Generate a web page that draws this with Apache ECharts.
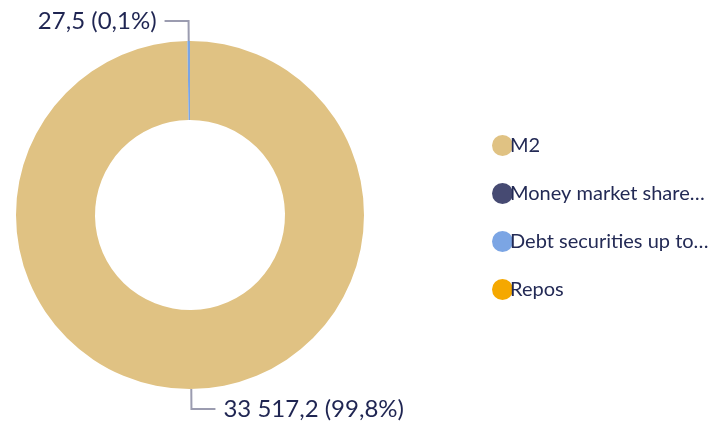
<!DOCTYPE html>
<html>
<head>
<meta charset="utf-8">
<script src="https://cdn.jsdelivr.net/npm/echarts@6/dist/echarts.min.js"></script>
<style>
  html, body { margin: 0; padding: 0; background: #ffffff; }
  #chart { width: 716px; height: 428px; }
</style>
</head>
<body>
<div id="chart"></div>
<script>
// Monetary aggregate breakdown
const categories = ['M2', 'Money market shares and units', 'Debt securities up to 2 years', 'Repos'];
// null = no amount reported for that component
const values = [33517.2, null, 27.5, null];
// Shares of the total (%), as published alongside the amounts
const shares = [99.8, null, 0.1, null];
const colors = ['#e0c283', '#464a72', '#7ba5e4', '#f5a800'];

function fmtNum(v, digits) {
  const parts = v.toFixed(digits).split('.');
  parts[0] = parts[0].replace(/\B(?=(\d{3})+(?!\d))/g, ' ');
  return parts.join(',');
}

const chart = echarts.init(document.getElementById('chart'), null, { renderer: 'canvas' });

chart.setOption({
  animation: false,
  color: colors,
  legend: {
    orient: 'vertical',
    left: 487,
    top: 130,
    icon: 'circle',
    itemWidth: 21,
    itemHeight: 21,
    itemGap: 27,
    data: categories,
    textStyle: {
      fontFamily: 'Lato',
      fontSize: 20,
      color: '#232a55',
      width: 203,
      overflow: 'truncate',
      ellipsis: '…',
      padding: [0, 0, 0, -8]
    }
  },
  series: [{
    type: 'pie',
    center: [190, 215],
    radius: [95, 174],
    startAngle: 90,
    clockwise: true,
    minAngle: 0.85,
    itemStyle: { borderWidth: 0 },
    label: {
      show: true,
      position: 'outside',
      fontFamily: 'Lato',
      fontSize: 24,
      color: '#1f2552',
      distanceToLabelLine: 8,
      formatter: function (p) {
        return fmtNum(p.value, 1) + ' (' + fmtNum(shares[p.dataIndex], 1) + '%)';
      }
    },
    labelLine: {
      show: true,
      length: 20,
      length2: 24,
      lineStyle: { color: '#9b9cb0', width: 2 }
    },
    emphasis: { disabled: true },
    data: categories.map((name, i) => ({ name: name, value: values[i] === null ? '-' : values[i] }))
  }]
});
</script>
</body>
</html>
